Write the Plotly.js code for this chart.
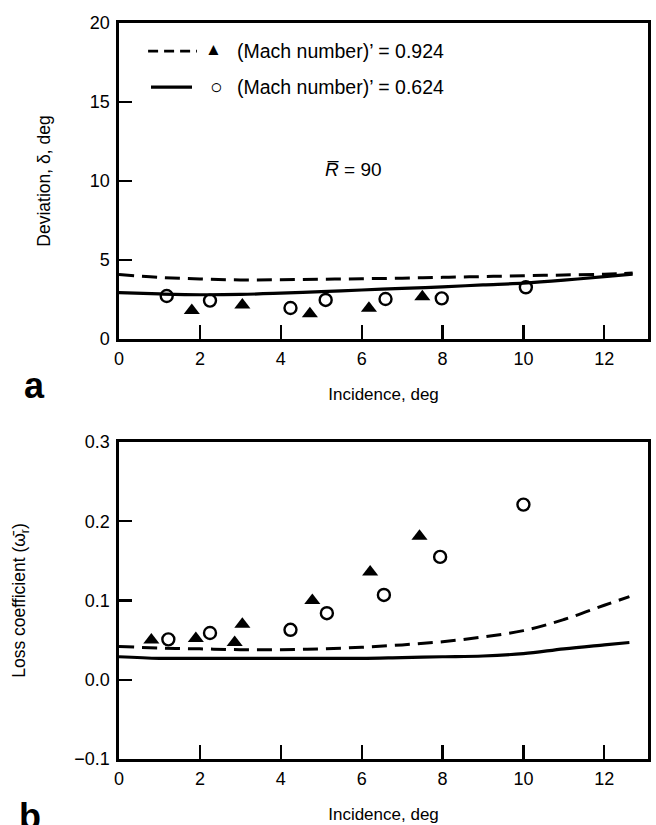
<!DOCTYPE html>
<html><head><meta charset="utf-8">
<script src="https://cdn.plot.ly/plotly-3.0.1.min.js"></script>
<style>body{margin:0;background:#fff}#chart{width:656px;height:825px}</style>
</head><body><div id="chart"></div>
<script>
// Panel a: deviation, deg
const devTheoryX = [0,1,2,3,4,5,6,7,8,9,10,11,12,12.7];
const devTheory924 = [4.08,3.9,3.8,3.74,3.75,3.78,3.81,3.85,3.9,3.95,4.0,4.05,4.1,4.17];
const devTheory624 = [2.93,2.85,2.8,2.82,2.9,3.0,3.1,3.2,3.3,3.42,3.53,3.72,3.95,4.1];
const devExpX924 = [1.80,3.05,4.72,6.18,7.50];
const devExp924 = [1.8,2.15,1.6,1.95,2.68];
const devExpX624 = [1.18,2.25,4.24,5.11,6.59,7.98,10.06];
const devExp624 = [2.72,2.43,1.96,2.47,2.53,2.57,3.27];
// Panel b: loss coefficient
const lossTheoryX = [0,1,2,3,4,5,6,7,8,9,10,11,12,12.62];
const lossTheory924 = [0.042,0.040,0.039,0.038,0.038,0.039,0.041,0.044,0.048,0.054,0.062,0.076,0.094,0.105];
const lossTheory624 = [0.029,0.027,0.027,0.027,0.027,0.027,0.027,0.028,0.029,0.030,0.033,0.039,0.044,0.047];
const lossExpX924 = [0.80,1.90,2.86,3.05,4.78,6.21,7.43];
const lossExp924 = [0.050,0.052,0.047,0.070,0.100,0.136,0.181];
const lossExpX624 = [1.22,2.25,4.24,5.14,6.55,7.94,10.0];
const lossExp624 = [0.051,0.059,0.063,0.084,0.107,0.155,0.221];

const xTicks = [0,2,4,6,8,10,12];
const devTicks = [0,5,10,15,20];
const lossTicks = [-0.1,0,0.1,0.2,0.3];
const legendLabels = ["(Mach number)\u2019 = 0.924","(Mach number)\u2019 = 0.624"];

const K = '#000';
const dashLine = {color:K, width:3, dash:'15px,8px', shape:'spline'};
const solidLine = {color:K, width:3.2, shape:'spline'};
const tri = {symbol:'triangle-up', size:14, color:K};
const circ = {symbol:'circle-open', size:12, color:K, line:{color:K, width:2.4}};

const traces = [
  {x:devTheoryX, y:devTheory924, xaxis:'x', yaxis:'y', mode:'lines', line:dashLine},
  {x:devTheoryX, y:devTheory624, xaxis:'x', yaxis:'y', mode:'lines', line:solidLine},
  {x:devExpX924, y:devExp924, xaxis:'x', yaxis:'y', mode:'markers', marker:tri},
  {x:devExpX624, y:devExp624, xaxis:'x', yaxis:'y', mode:'markers', marker:circ},
  {x:lossTheoryX, y:lossTheory924, xaxis:'x2', yaxis:'y2', mode:'lines', line:dashLine},
  {x:lossTheoryX, y:lossTheory624, xaxis:'x2', yaxis:'y2', mode:'lines', line:solidLine},
  {x:lossExpX924, y:lossExp924, xaxis:'x2', yaxis:'y2', mode:'markers', marker:tri},
  {x:lossExpX624, y:lossExp624, xaxis:'x2', yaxis:'y2', mode:'markers', marker:circ}
];

const fontFam = '"Liberation Sans", Arial, Helvetica, sans-serif';
function xax(anchor){
  return {anchor:anchor, domain:[0,1], range:[0,13.08], tickvals:xTicks, ticks:'inside', ticklen:14, tickwidth:2.2,
    tickcolor:K, showline:true, linewidth:2.6, linecolor:K, mirror:true, showgrid:false, zeroline:false,
    tickfont:{size:18, color:K}, ticklabelstandoff:2,
    title:{text:'Incidence, deg', font:{size:17, color:K}, standoff:20}};
}
function yax(anchor, dom, rng, tv, fmt, title, so){
  return {anchor:anchor, domain:dom, range:rng, tickvals:tv, tickformat:fmt, ticks:'inside', ticklen:13, tickwidth:2.2,
    tickcolor:K, showline:true, linewidth:2.6, linecolor:K, mirror:true, showgrid:false, zeroline:false,
    tickfont:{size:18, color:K}, ticklabelstandoff:3,
    title:{text:title, font:{size:17.5, color:K}, standoff:so}};
}

const annotations = [
  {xref:'x domain', yref:'y domain', x:0.2193, y:0.911, xanchor:'left', yanchor:'middle', text:legendLabels[0], showarrow:false, font:{size:19.5, color:K}},
  {xref:'x domain', yref:'y domain', x:0.2193, y:0.797, xanchor:'left', yanchor:'middle', text:legendLabels[1], showarrow:false, font:{size:19.5, color:K}},
  {xref:'x domain', yref:'y domain', x:0.1777, y:0.916, xanchor:'center', yanchor:'middle', text:'\u25B2', showarrow:false, font:{size:17, color:K}},
  {xref:'x domain', yref:'y domain', x:0.185, y:0.799, xanchor:'center', yanchor:'middle', text:'\u25CB', showarrow:false, font:{size:21, color:K}},
  {xref:'x domain', yref:'y domain', x:0.444, y:0.535, xanchor:'center', yanchor:'middle', text:'<i>R\u0305</i> = 90', showarrow:false, font:{size:19, color:K}},
  {xref:'paper', yref:'paper', x:-0.159, y:0.508, xanchor:'center', yanchor:'middle', text:'<b>a</b>', showarrow:false, font:{size:36, color:K}},
  {xref:'paper', yref:'paper', x:-0.168, y:-0.047, xanchor:'center', yanchor:'top', text:'<b>b</b>', showarrow:false, font:{size:36, color:K}}
];
const shapes = [
  {type:'line', xref:'x domain', yref:'y domain', x0:0.055, x1:0.1474, y0:0.911, y1:0.911, line:{color:K, width:2.6, dash:'10px,6px'}},
  {type:'line', xref:'x domain', yref:'y domain', x0:0.0605, x1:0.138, y0:0.797, y1:0.797, line:{color:K, width:3.2}}
];

const layout = {
  width:656, height:825, margin:{l:119, r:8, t:23, b:66},
  paper_bgcolor:'#fff', plot_bgcolor:'#fff', showlegend:false,
  font:{family:fontFam, color:K},
  xaxis:xax('y'), yaxis:yax('x',[0.5707,1],[0,20],devTicks,'d','Deviation, \u03B4, deg',35),
  xaxis2:xax('y2'), yaxis2:yax('x2',[0,0.4307],[-0.1,0.3],lossTicks,'.1f','Loss coefficient (\u03C9\u0304<sub>r</sub>)',44),
  annotations:annotations, shapes:shapes
};
Plotly.newPlot('chart', traces, layout, {displayModeBar:false, staticPlot:true});
</script></body></html>
